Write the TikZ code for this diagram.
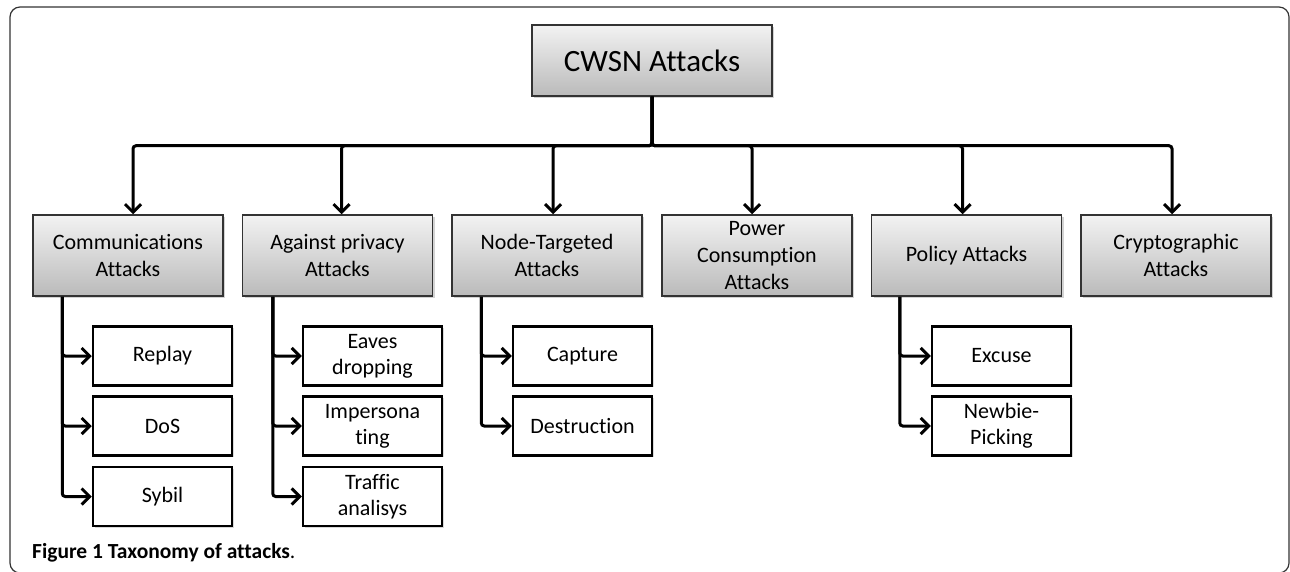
\documentclass[tikz,border=0pt]{standalone}
\usepackage{fontspec}
\setmainfont{Carlito}[Ligatures=NoCommon]
\usetikzlibrary{arrows.meta,shadows}

\tikzset{
  rootbox/.style={draw=black!80, line width=1.5pt, top color=black!5, bottom color=black!27,
    drop shadow={shadow xshift=2pt,shadow yshift=-2pt,opacity=.35},
    minimum width=240pt, minimum height=71pt, font=\fontsize{31}{37}\selectfont},
  groupbox/.style={draw=black!80, line width=1.5pt, top color=black!5, bottom color=black!27,
    drop shadow={shadow xshift=2pt,shadow yshift=-2pt,opacity=.35},
    minimum width=190pt, minimum height=81pt, inner sep=0pt, align=center,
    font=\fontsize{22}{27}\selectfont},
  leafbox/.style={draw, fill=white, line width=2.5pt,
    drop shadow={shadow xshift=1.5pt,shadow yshift=-1.5pt,opacity=.3},
    minimum width=139pt, minimum height=59pt, inner sep=0pt, align=center,
    font=\fontsize{22}{26}\selectfont},
  branch/.style={line width=3pt, rounded corners=3pt, -{Straight Barb[length=8pt,width=16pt]}}
}

\begin{document}
\begin{tikzpicture}[x=1pt,y=-1pt]
\useasboundingbox (0,0) rectangle (1290,572);

\draw [black!80, line width=1.2pt, rounded corners=10pt] (10,7) rectangle (1289,573);

\node [rootbox] (root) at (652,60.5) {CWSN Attacks};

\node [groupbox] (comm) at (128,255.5) {Communications\\Attacks};
\node [groupbox] (privacy) at (337.5,255.5) {Against privacy\\Attacks};
\node [groupbox] (target) at (547,255.5) {Node-Targeted\\Attacks};
\node [groupbox] (power) at (757,255.5) {Power\\Consumption\\Attacks};
\node [groupbox] (policy) at (966.5,255.5) {Policy Attacks};
\node [groupbox] (crypto) at (1176,255.5) {Cryptographic\\Attacks};


\draw [branch] (root.south) -- ++(0,49) -| ([xshift=5pt]comm.north);
\draw [branch] (root.south) -- ++(0,49) -| ([xshift=4pt]privacy.north);
\draw [branch] (root.south) -- ++(0,49) -| ([xshift=6pt]target.north);
\draw [branch] (root.south) -- ++(0,49) -| ([xshift=-5pt]power.north);
\draw [branch] (root.south) -- ++(0,49) -| ([xshift=-4pt]policy.north);
\draw [branch] (root.south) -- ++(0,49) -| ([xshift=-4pt]crypto.north);


\node [leafbox] (replay) at (162.5,356) {Replay};
\node [leafbox] (dos) at (162.5,426) {DoS};
\node [leafbox] (sybil) at (162.5,496.5) {Sybil};

\draw [branch] ([xshift=30pt]comm.south west) |- (replay.west);
\draw [branch] ([xshift=30pt]comm.south west) |- (dos.west);
\draw [branch] ([xshift=30pt]comm.south west) |- (sybil.west);


\node [leafbox] (eaves) at (372.5,356) {Eaves\\dropping};
\node [leafbox] (imper) at (372.5,426) {Impersona\\ting};
\node [leafbox] (traffic) at (372.5,496.5) {Traffic\\analisys};

\draw [branch] ([xshift=31pt]privacy.south west) |- (eaves.west);
\draw [branch] ([xshift=31pt]privacy.south west) |- (imper.west);
\draw [branch] ([xshift=31pt]privacy.south west) |- (traffic.west);


\node [leafbox] (capture) at (582.5,356) {Capture};
\node [leafbox] (destr) at (582.5,426) {Destruction};

\draw [branch] ([xshift=30pt]target.south west) |- (capture.west);
\draw [branch] ([xshift=30pt]target.south west) |- (destr.west);


\node [leafbox] (excuse) at (1001.5,356) {Excuse};
\node [leafbox] (newbie) at (1001.5,426) {Newbie-\\Picking};

\draw [branch] ([xshift=29pt]policy.south west) |- (excuse.west);
\draw [branch] ([xshift=29pt]policy.south west) |- (newbie.west);


\node [anchor=base west, inner sep=0pt, font=\fontsize{21.5}{25}\selectfont] (caption) at (32,558) {\textbf{Figure 1 Taxonomy of attacks}.};
\end{tikzpicture}
\end{document}
